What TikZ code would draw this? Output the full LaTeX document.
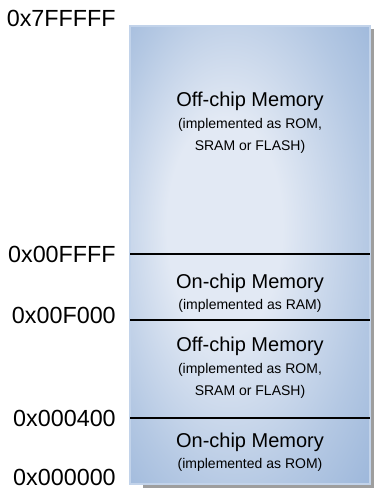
\documentclass[tikz,border=0pt]{standalone}
\usepackage{fontspec}
\setmainfont{Liberation Sans}
\definecolor{memlight}{HTML}{E2E9F4}
\definecolor{memmid}{HTML}{B4C8E3}
\definecolor{memdark}{HTML}{88A8D3}
\definecolor{memedge}{HTML}{C2D3EA}
\pgfdeclareradialshading{memshade}{\pgfpoint{-7bp}{4bp}}{%
  color(0bp)=(memlight); color(12bp)=(memlight);
  color(28bp)=(memmid); color(46bp)=(memdark); color(50bp)=(memdark)}
\newcommand{\subtext}{\fontsize{10.5}{13.5}\selectfont}
\begin{document}
\begin{tikzpicture}[x=0.75pt,y=-0.75pt,
        addr/.style={anchor=east,inner sep=0pt,font=\fontsize{17.5}{20}\selectfont},
        region/.style={align=center,inner sep=0pt,font=\fontsize{15}{17}\selectfont},
        divider/.style={black,line width=0.9pt}]
        \useasboundingbox (0,0) rectangle (374,488);
        % shadow and memory block
        \fill[black!38] (143,29) rectangle (374,488);
        \shade[shading=memshade] (130,26) rectangle (370,484);
        \draw[memedge,line width=0.8pt] (130,26) rectangle (370,484);
        % boundaries between regions
        \coordinate (l1) at (130,254); \coordinate (r1) at (370,254);
        \coordinate (l2) at (130,320); \coordinate (r2) at (370,320);
        \coordinate (l3) at (130,418); \coordinate (r3) at (370,418);
        \draw[divider] (l1) -- (r1);
        \draw[divider] (l2) -- (r2);
        \draw[divider] (l3) -- (r3);
        % regions
        \node[region] (offchipHi) at (250,123) {Off-chip Memory\\[-1pt]
            {\subtext (implemented as ROM,}\\
            {\subtext SRAM or FLASH)}};
        \node[region] (onchipRam) at (250,293) {On-chip Memory\\[-1pt]
            {\subtext (implemented as RAM)}};
        \node[region] (offchipLo) at (250,368) {Off-chip Memory\\[-1pt]
            {\subtext (implemented as ROM,}\\
            {\subtext SRAM or FLASH)}};
        \node[region] (onchipRom) at (250,452) {On-chip Memory\\[-1pt]
            {\subtext (implemented as ROM)}};
        % addresses
        \node[addr] (a7FFFFF) at (116,18) {0x7FFFFF};
        \node[addr] (a00FFFF) at (116,254) {0x00FFFF};
        \node[addr] (a00F000) at (116,315) {0x00F000};
        \node[addr] (a000400) at (116,418) {0x000400};
        \node[addr] (a000000) at (116,477) {0x000000};
\end{tikzpicture}
\end{document}
